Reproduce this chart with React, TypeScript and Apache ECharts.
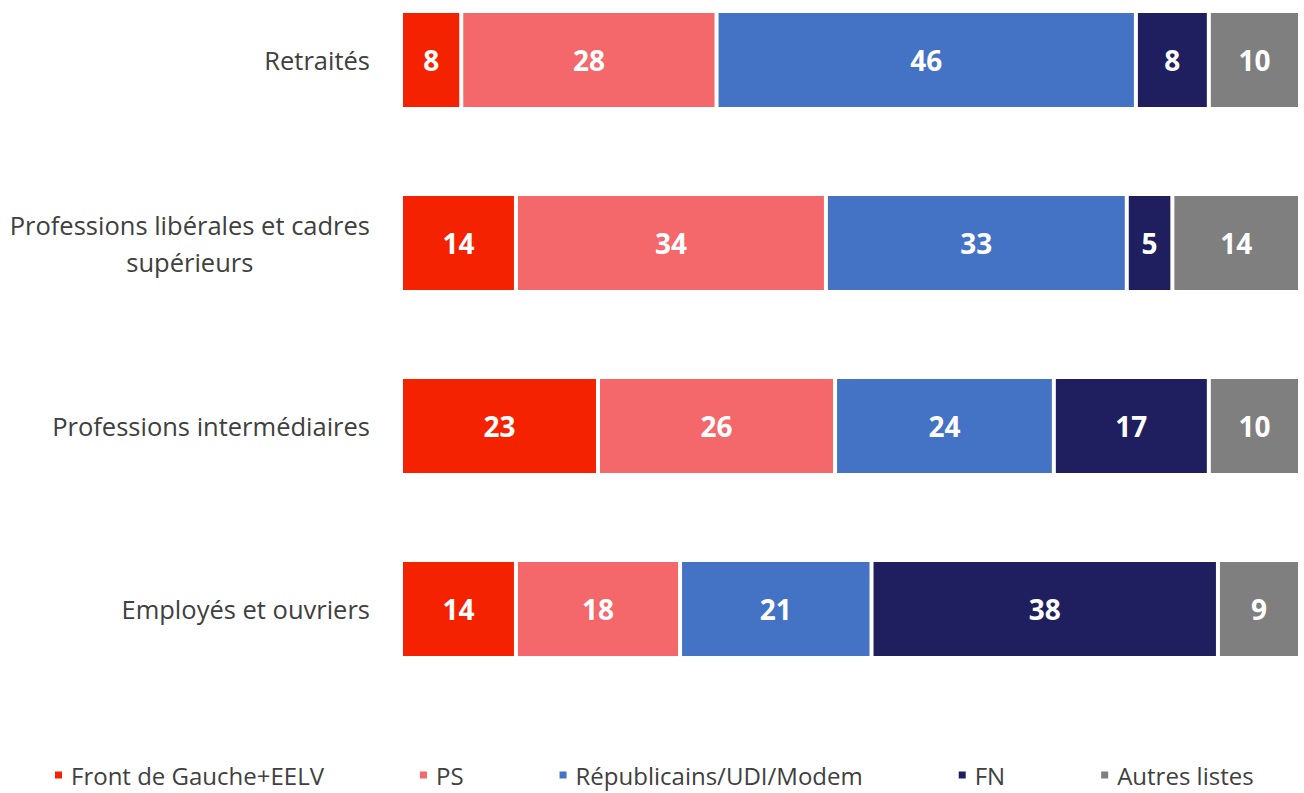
import React, { useEffect, useRef } from "react";
import * as echarts from "echarts";

const categories = [
  "Retraités",
  "Professions libérales et cadres\nsupérieurs",
  "Professions intermédiaires",
  "Employés et ouvriers",
];
const seriesNames = ["Front de Gauche+EELV", "PS", "Républicains/UDI/Modem", "FN", "Autres listes"];
const fdgValues = [8, 14, 23, 14];
const psValues = [28, 34, 26, 18];
const republicainsValues = [46, 33, 24, 21];
const fnValues = [8, 5, 17, 38];
const autresValues = [10, 14, 10, 9];
const colors = ["#F52200", "#F4676A", "#4472C4", "#1F1F5F", "#7F7F7F"];

const FONT = "'Open Sans', Lato, sans-serif";

export default function App() {
  const ref = useRef<HTMLDivElement>(null);
  useEffect(() => {
    if (!ref.current) return;
    const chart = echarts.init(ref.current, undefined, { renderer: "svg" });
    const allValues = [fdgValues, psValues, republicainsValues, fnValues, autresValues];
    chart.setOption({
      animation: false,
      backgroundColor: "#ffffff",
      grid: {
        left: 402,
        right: 4,
        top: -31.5,
        height: 732,
        containLabel: false,
        outerBoundsMode: "none",
      },
      xAxis: {
        type: "value",
        min: 1.5,
        max: 100,
        show: false,
      },
      yAxis: {
        type: "category",
        inverse: true,
        data: categories,
        axisLine: { show: false },
        axisTick: { show: false },
        splitLine: { show: false },
        axisLabel: {
          margin: 32,
          color: "#404040",
          fontSize: 25.5,
          fontFamily: FONT,
          formatter: (v: string) =>
            v
              .split("\n")
              .map((l) => `{c|${l}}`)
              .join("\n"),
          rich: {
            c: {
              align: "center",
              color: "#404040",
              fontSize: 25.5,
              fontFamily: FONT,
              lineHeight: 37,
            },
          },
        },
      },
      legend: {
        data: seriesNames,
        left: 48,
        top: 758,
        icon: "rect",
        itemWidth: 9,
        itemHeight: 9,
        itemGap: 94,
        textStyle: {
          color: "#404040",
          fontSize: 24,
          lineHeight: 24,
          fontFamily: FONT,
          padding: [0, 0, 0, 3],
        },
      },
      series: seriesNames.map((name, i) => ({
        name,
        type: "bar",
        stack: "total",
        barWidth: 98,
        data: allValues[i],
        itemStyle: { color: colors[i], borderColor: "#ffffff", borderWidth: 2 },
        label: {
          show: true,
          position: "inside",
          color: "#ffffff",
          fontSize: 28,
          fontWeight: "bold",
          fontFamily: FONT,
        },
      })),
    });
    return () => chart.dispose();
  }, []);
  return (
    <div
      ref={ref}
      style={{ position: "fixed", left: 0, top: 0, width: 1304, height: 793 }}
    />
  );
}
